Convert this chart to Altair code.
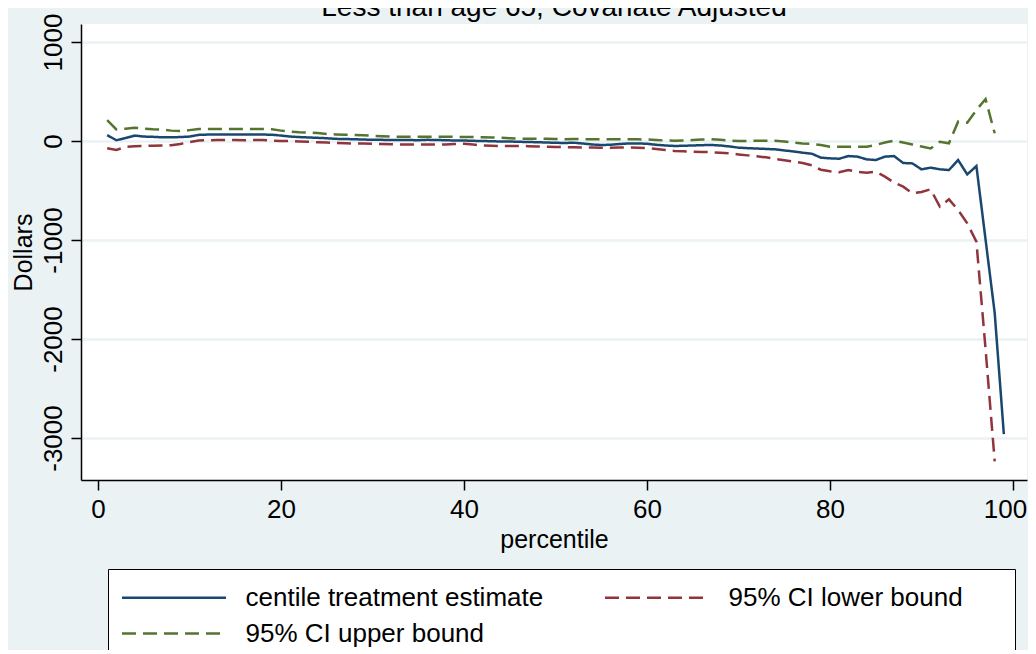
import altair as alt
import pandas as pd

percentile = list(range(1, 100))

estimate = [60, 8, 30, 55, 45, 42, 38, 38, 40, 45,
            62, 65, 65, 65, 65, 65, 65, 65, 64, 55,
            45, 40, 36, 32, 28, 22, 20, 18, 15, 12,
            12, 10, 10, 10, 8, 12, 10, 8, 5, 5,
            2, 0, -2, -5, -5, -8, -10, -12, -15, -18,
            -20, -17, -25, -35, -40, -38, -30, -25, -24, -28,
            -38, -45, -50, -48, -45, -42, -40, -45, -55, -67,
            -72, -76, -80, -84, -95, -105, -118, -128, -168, -175,
            -179, -152, -158, -185, -192, -158, -152, -222, -226, -286,
            -269, -286, -293, -192, -337, -253, -995, -1737, -2960]

lower = [-74, -91, -60, -54, -50, -48, -45, -42, -30, -10,
         5, 8, 10, 10, 10, 8, 10, 10, 5, 0,
         0, -5, -8, -12, -15, -20, -22, -25, -26, -28,
         -30, -32, -34, -34, -34, -34, -36, -34, -30, -28,
         -35, -45, -48, -50, -50, -50, -52, -55, -58, -60,
         -62, -64, -65, -66, -67, -67, -66, -66, -67, -72,
         -80, -90, -100, -104, -108, -110, -113, -118, -125, -135,
         -145, -155, -165, -180, -195, -208, -222, -245, -290, -305,
         -316, -293, -310, -320, -310, -360, -420, -461, -528, -515,
         -488, -663, -589, -697, -831, -1017, -2100, -3235]

upper = [212, 118, 125, 135, 125, 118, 115, 105, 100, 110,
         121, 121, 121, 121, 121, 121, 121, 121, 118, 105,
         94, 88, 85, 80, 70, 67, 64, 62, 58, 52,
         48, 45, 44, 44, 44, 44, 44, 44, 42, 40,
         40, 38, 35, 33, 28, 25, 22, 22, 22, 20,
         18, 20, 19, 18, 18, 18, 18, 17, 17, 15,
         10, 5, 3, 5, 10, 15, 17, 12, 5, 0,
         1, 2, 3, 3, -5, -15, -25, -30, -40, -57,
         -57, -57, -57, -57, -40, -15, 3, -15, -35, -55,
         -75, -7, -23, 195, 185, 313, 424, 78]

series_names = ["centile treatment estimate", "95% CI lower bound", "95% CI upper bound"]
series_colors = ["#1A476F", "#90353B", "#55752F"]
series_dashes = [[1, 0], [14, 7], [14, 7]]

x_ticks = [0, 20, 40, 60, 80, 100]
y_ticks = [1000, 0, -1000, -2000, -3000]

rows = []
for name, vals in zip(series_names, [estimate, lower, upper]):
    for p, v in zip(percentile, vals):
        rows.append({"percentile": p, "value": v, "series": name})
df = pd.DataFrame(rows)

blank_pad = "\u2800" * 2

legend = alt.Legend(
    title=None,
    orient="none",
    legendX=27,
    legendY=545,
    direction="horizontal",
    columns=2,
    gridAlign="each",
    columnPadding=56,
    rowPadding=8,
    padding=14,
    fillColor="white",
    strokeColor="#000000",
    symbolType="M-4,0H4",
    symbolSize=676,
    symbolStrokeWidth=2.5,
    symbolOffset=37.5,
    labelOffset=57,
    labelFontSize=26,
    labelLimit=900,
    labelColor="#000000",
    labelFont="Liberation Sans",
    # invisible trailing blanks widen the second column so the frame reaches the reference's right edge
    labelExpr="datum.value == '95% CI lower bound' ? datum.label + '" + blank_pad + "' : datum.label",
)

chart = alt.Chart(df).mark_line(strokeWidth=2.5, clip=True).encode(
    x=alt.X(
        "percentile:Q",
        scale=alt.Scale(domain=[-1.86, 101.53], nice=False, zero=False),
        axis=alt.Axis(values=x_ticks, title="percentile", grid=False,
                      labelPadding=6, titlePadding=5,
                      labelOffset={"condition": {"test": "datum.value == 100", "value": -8}, "value": 0}),
    ),
    y=alt.Y(
        "value:Q",
        scale=alt.Scale(domain=[-3424, 1182], nice=False, zero=False),
        axis=alt.Axis(values=y_ticks, title="Dollars", grid=True,
                      labelAngle=270, labelAlign="center", labelBaseline="bottom",
                      labelExpr="datum.value + ''", labelPadding=5, titlePadding=4),
    ),
    color=alt.Color("series:N", scale=alt.Scale(domain=series_names, range=series_colors), legend=legend),
    strokeDash=alt.StrokeDash("series:N", scale=alt.Scale(domain=series_names, range=series_dashes), legend=legend),
).properties(
    width=946,
    height=456,
    autosize=alt.AutoSizeParams(type="none"),
    padding={"left": 73, "top": 16, "right": 1, "bottom": 170},
    title=alt.TitleParams("Less than age 65, Covariate Adjusted", fontSize=28, fontWeight="normal",
                          frame="group", anchor="middle", offset=6, dy=15, color="#000000"),
).configure(
    background="#EAF2F3",
    font="Liberation Sans",
).configure_view(
    fill="white",
    strokeWidth=0,
).configure_axis(
    domainColor="#000000",
    tickColor="#000000",
    labelColor="#000000",
    titleColor="#000000",
    labelFontSize=26,
    titleFontSize=25,
    titleFontWeight="normal",
    tickSize=10,
    domainWidth=1.5,
    tickWidth=1.5,
    gridColor="#EAF2F3",
    gridWidth=2.5,
    labelFont="Liberation Sans",
    titleFont="Liberation Sans",
)

chart.save("out.html", embed_options={"renderer": "svg", "actions": False})
